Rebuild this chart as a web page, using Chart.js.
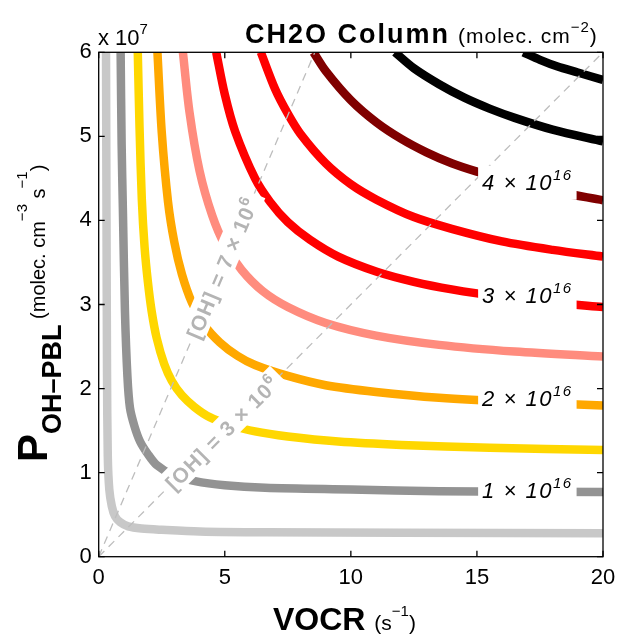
<!DOCTYPE html>
<html lang="en">
<head>
  <meta charset="UTF-8">
  <title>CH2O Column</title>
  <script src="https://cdn.jsdelivr.net/npm/chart.js"></script>
  <style>
    html, body {
      margin: 0;
      padding: 0;
      background: #fff;
    }
  </style>
</head>
<body>
  <canvas id="ch2oChart" width="618" height="634"></canvas>

  <script>
    const FONT = "'Liberation Sans', Arial, Helvetica, sans-serif";

    // contour levels, x 1e16 molec cm^-2
    const levels = [0.5, 1, 1.5, 2, 2.5, 3, 3.5, 4, 4.5, 5];
    const lineColors = ["#c8c8c8", "#939393", "#ffd700", "#ffa800", "#ff8c7e",
                        "#ff0000", "#ff0000", "#800000", "#000000", "#000000"];

    // VOCR (s^-1) / P_OH (x 1e7)
    const vocr05 = [0.29, 0.31, 0.33, 0.36, 0.42, 0.52, 0.65, 0.85, 1.17, 1.7, 2.5, 4, 6.6, 12, 20];
    const poh05  = [6, 4, 2.2, 1.2, 0.8, 0.6, 0.48, 0.41, 0.36, 0.335, 0.32, 0.30, 0.29, 0.285, 0.28];

    const vocr10 = [0.87, 0.91, 0.96, 1.04, 1.14, 1.24, 1.42, 1.64, 1.95, 2.3, 2.9, 3.82, 5, 6.6, 10, 13.5, 20];
    const poh10  = [6, 4.9, 4.12, 2.93, 2.14, 1.77, 1.55, 1.37, 1.22, 1.09, 0.98, 0.90, 0.85, 0.82, 0.80, 0.78, 0.77];

    const vocr15 = [1.55, 1.62, 1.71, 1.82, 1.95, 2.1, 2.3, 2.6, 2.9, 3.3, 3.8, 4.4, 5.2, 6.2, 7.5, 9.5, 12, 15.5, 20];
    const poh15  = [6, 5.1, 4.25, 3.68, 3.27, 2.92, 2.6, 2.29, 2.09, 1.92, 1.78, 1.66, 1.57, 1.49, 1.43, 1.37, 1.33, 1.295, 1.27];

    const vocr20 = [2.33, 2.5, 2.75, 3.0, 3.3, 3.7, 4.2, 4.8, 5.5, 6.2, 7.5, 9, 11, 13.5, 16.5, 20];
    const poh20  = [6, 5.05, 4.22, 3.74, 3.36, 3.02, 2.75, 2.55, 2.39, 2.28, 2.15, 2.04, 1.96, 1.89, 1.84, 1.80];

    const vocr25 = [3.34, 3.6, 4, 4.5, 5, 5.67, 6.5, 7.5, 9, 11, 13.5, 16.5, 20];
    const poh25  = [6, 5.29, 4.59, 4.06, 3.71, 3.41, 3.16, 2.97, 2.78, 2.63, 2.52, 2.44, 2.38];

    const vocr30 = [4.66, 5.0, 5.41, 6.2, 6.8, 7.5, 8.38, 9.5, 11.03, 12.5, 14, 16, 18, 20];
    const poh30  = [6, 5.5, 5.06, 4.5, 4.22, 3.98, 3.77, 3.57, 3.39, 3.27, 3.18, 3.09, 3.02, 2.97];

    const vocr35 = [6.43, 7, 7.5, 8, 9, 10, 11, 12.5, 14, 16, 18, 20];
    const poh35  = [6, 5.56, 5.27, 5.03, 4.68, 4.43, 4.25, 4.04, 3.90, 3.75, 3.65, 3.57];

    const vocr40 = [8.52, 9, 10, 11, 12, 13, 14, 15, 16.5, 18, 20];
    const poh40  = [6, 5.78, 5.43, 5.17, 4.97, 4.81, 4.68, 4.58, 4.45, 4.35, 4.24];

    const vocr45 = [11.75, 12.5, 13.5, 14.5, 15.5, 16.5, 18, 20];
    const poh45  = [6, 5.81, 5.62, 5.46, 5.33, 5.22, 5.08, 4.94];

    const vocr50 = [16.84, 17.5, 18.2, 19, 20];
    const poh50  = [6, 5.91, 5.83, 5.76, 5.67];

    const vocrLists = [vocr05, vocr10, vocr15, vocr20, vocr25, vocr30, vocr35, vocr40, vocr45, vocr50];
    const pohLists  = [poh05, poh10, poh15, poh20, poh25, poh30, poh35, poh40, poh45, poh50];

    // [OH] = P_OH / VOCR lines
    const ohLevels = [7e6, 3e6];
    const ohDigits = ["7", "3"];
    const ohLabelVocr = [4.9, 4.9];

    // inline contour labels
    const contourLabelDigits = ["1", "2", "3", "4"];
    const contourLabelVocr = [17.0, 17.0, 17.0, 17.0];
    const contourLabelPoh = [0.79, 1.89, 3.11, 4.46];

    const xTicks = [0, 5, 10, 15, 20];
    const yTicks = [0, 1, 2, 3, 4, 5, 6];

    function rich(ctx, parts) {
      let w = 0;
      parts.forEach(p => { ctx.font = p.font; w += ctx.measureText(p.t).width; });
      return w;
    }
    function drawRich(ctx, parts, x, y) {
      let cx = x;
      parts.forEach(p => {
        ctx.font = p.font;
        ctx.fillText(p.t, cx, y + (p.dy || 0));
        cx += ctx.measureText(p.t).width;
      });
    }

    const datasets = [];
    ohLevels.forEach(oh => {
      datasets.push({
        data: [{ x: 0, y: 0 }, { x: 20, y: oh * 20 / 1e7 }],
        borderColor: "#bdbdbd",
        borderWidth: 1.3,
        borderDash: [8, 6],
        pointRadius: 0,
        order: 0
      });
    });
    levels.forEach((lvl, i) => {
      datasets.push({
        label: lvl + "e16",
        data: vocrLists[i].map((v, k) => ({ x: v, y: pohLists[i][k] })),
        borderColor: lineColors[i],
        borderWidth: 8.5,
        borderCapStyle: "butt",
        borderJoinStyle: "round",
        tension: 0.3,
        pointRadius: 0,
        order: 1
      });
    });

    const annotate = {
      id: "annotate",
      afterDatasetsDraw(chart) {
        const ctx = chart.ctx;
        const xs = chart.scales.x, ys = chart.scales.y;
        ctx.save();
        ctx.textBaseline = "alphabetic";

        // [OH] labels along the dashed lines
        ctx.letterSpacing = "1px";
        ohLevels.forEach((oh, i) => {
          const x0 = xs.getPixelForValue(0), y0 = ys.getPixelForValue(0);
          const x1 = xs.getPixelForValue(20), y1 = ys.getPixelForValue(oh * 20 / 1e7);
          const ang = Math.atan2(y1 - y0, x1 - x0);
          const cx = xs.getPixelForValue(ohLabelVocr[i]);
          const cy = ys.getPixelForValue(oh * ohLabelVocr[i] / 1e7);
          const parts = [
            { t: "[OH] = " + ohDigits[i] + " × 10", font: "bold 21px " + FONT },
            { t: "6", font: "bold 15px " + FONT, dy: -9 }
          ];
          const w = rich(ctx, parts);
          ctx.save();
          ctx.translate(cx, cy);
          ctx.rotate(ang);
          ctx.fillStyle = "#fff";
          ctx.fillRect(-w / 2 - 6, -14, w + 12, 26);
          ctx.fillStyle = "#b4b4b4";
          drawRich(ctx, parts, -w / 2, 7.5);
          ctx.restore();
        });

        // contour labels
        ctx.letterSpacing = "1.5px";
        contourLabelDigits.forEach((d, i) => {
          const cx = xs.getPixelForValue(contourLabelVocr[i]);
          const cy = ys.getPixelForValue(contourLabelPoh[i]);
          const parts = [
            { t: d + " × 10", font: "italic 22px " + FONT },
            { t: "16", font: "italic 15px " + FONT, dy: -10 }
          ];
          const w = rich(ctx, parts);
          ctx.fillStyle = "#fff";
          ctx.fillRect(cx - w / 2 - 4, cy - 16, w + 8, 34);
          ctx.fillStyle = "#000";
          drawRich(ctx, parts, cx - w / 2, cy + 8);
        });
        ctx.restore();
      },
      afterDraw(chart) {
        const ctx = chart.ctx;
        const a = chart.chartArea;
        const xs = chart.scales.x, ys = chart.scales.y;
        ctx.save();
        // box and inward ticks
        ctx.strokeStyle = "#000";
        ctx.lineWidth = 1.3;
        ctx.strokeRect(a.left, a.top, a.right - a.left, a.bottom - a.top);
        ctx.beginPath();
        xTicks.forEach(v => {
          const px = xs.getPixelForValue(v);
          ctx.moveTo(px, a.bottom); ctx.lineTo(px, a.bottom - 6);
          ctx.moveTo(px, a.top); ctx.lineTo(px, a.top + 6);
        });
        yTicks.forEach(v => {
          const py = ys.getPixelForValue(v);
          ctx.moveTo(a.left, py); ctx.lineTo(a.left + 6, py);
          ctx.moveTo(a.right, py); ctx.lineTo(a.right - 6, py);
        });
        ctx.stroke();

        ctx.fillStyle = "#000";
        ctx.textBaseline = "alphabetic";
        // exponent
        drawRich(ctx, [
          { t: "x 10", font: "22px " + FONT },
          { t: "7", font: "15px " + FONT, dy: -11 }
        ], 98, 45);

        // title
        ctx.letterSpacing = "2px";
        drawRich(ctx, [{ t: "CH2O Column", font: "bold 27px " + FONT }], 245, 43);
        ctx.letterSpacing = "1px";
        drawRich(ctx, [
          { t: "(molec. cm", font: "21px " + FONT },
          { t: "−2", font: "15px " + FONT, dy: -11 },
          { t: ")", font: "21px " + FONT }
        ], 458, 43);
        ctx.letterSpacing = "0px";

        // x title
        drawRich(ctx, [
          { t: "VOCR ", font: "bold 32px " + FONT },
          { t: "(s", font: "21px " + FONT },
          { t: "−1", font: "15px " + FONT, dy: -14 },
          { t: ")", font: "21px " + FONT }
        ], 273, 630);

        // y title, rotated
        ctx.save();
        ctx.translate(47, 462);
        ctx.rotate(-Math.PI / 2);
        drawRich(ctx, [
          { t: "P", font: "bold 42px " + FONT },
          { t: "OH–PBL", font: "bold 27px " + FONT, dy: 14 },
          { t: " (molec. cm", font: "20px " + FONT, dy: -2 },
          { t: "−3", font: "15px " + FONT, dy: -20 },
          { t: " s", font: "20px " + FONT, dy: -2 },
          { t: "−1", font: "15px " + FONT, dy: -20 },
          { t: ")", font: "20px " + FONT, dy: -2 }
        ], 0, 0);
        ctx.restore();
        ctx.restore();
      }
    };

    new Chart(document.getElementById("ch2oChart"), {
      type: "line",
      data: { datasets },
      options: {
        responsive: false,
        animation: false,
        layout: { padding: { top: 52.3, right: 15, left: 0, bottom: 0 } },
        plugins: { legend: { display: false }, tooltip: { enabled: false } },
        scales: {
          x: {
            type: "linear",
            min: 0, max: 20,
            afterBuildTicks: s => { s.ticks = xTicks.map(v => ({ value: v })); },
            afterFit: s => { s.height = 77.3; s.paddingLeft = 0; s.paddingRight = 0; },
            grid: { display: false, drawTicks: false },
            border: { display: false },
            ticks: { color: "#000", font: { family: FONT, size: 22 }, padding: 8, maxRotation: 0 }
          },
          y: {
            type: "linear",
            min: 0, max: 6,
            afterBuildTicks: s => { s.ticks = yTicks.map(v => ({ value: v })); },
            afterFit: s => { s.width = 98.7; s.paddingTop = 0; s.paddingBottom = 0; },
            grid: { display: false, drawTicks: false },
            border: { display: false },
            ticks: { color: "#000", font: { family: FONT, size: 22 }, padding: 7 }
          }
        }
      },
      plugins: [annotate]
    });
  </script>
</body>
</html>
